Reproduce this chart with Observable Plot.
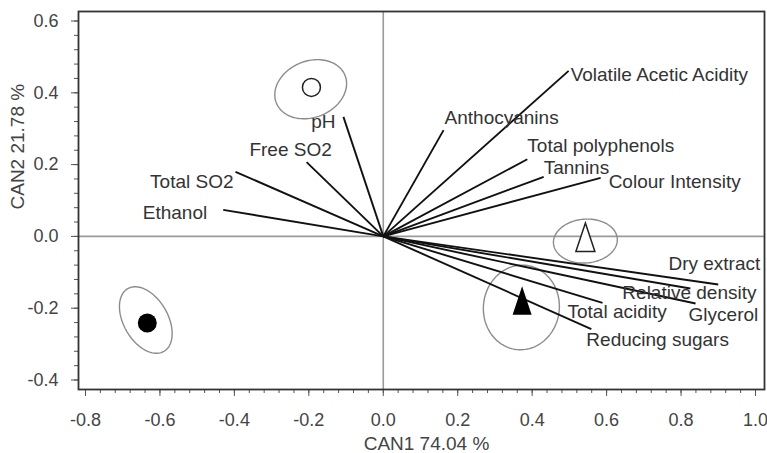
<!DOCTYPE html>
<html>
<head>
<meta charset="utf-8">
<script src="https://cdn.jsdelivr.net/npm/d3@7"></script>
<script src="https://cdn.jsdelivr.net/npm/@observablehq/plot@0.6"></script>
<style>
  body { margin: 0; background: #fff; }
  svg { display: block; }
</style>
</head>
<body>
<div id="chart"></div>
<script>
// Structure coefficients of the wine variables on the two canonical axes
const variables = [
  "Volatile Acetic Acidity", "Anthocyanins", "Total polyphenols", "Tannins",
  "Colour Intensity", "pH", "Free SO2", "Total SO2", "Ethanol",
  "Dry extract", "Relative density", "Glycerol", "Total acidity", "Reducing sugars"
];
const can1 = [0.498, 0.162, 0.387, 0.431, 0.584, -0.107, -0.206, -0.397, -0.430, 0.900, 0.825, 0.839, 0.589, 0.559];
const can2 = [0.461, 0.296, 0.215, 0.166, 0.163, 0.333, 0.207, 0.180, 0.074, -0.134, -0.145, -0.187, -0.185, -0.258];

// Group centroids
const groups = ["open circle", "filled circle", "open triangle", "filled triangle"];
const groupCan1 = [-0.193, -0.634, 0.543, 0.373];
const groupCan2 = [0.415, -0.241, -0.004, -0.180];

// Confidence ellipses around each group: centre, semi-axes and tilt (degrees)
const ellipseCan1 = [-0.195, -0.638, 0.543, 0.371];
const ellipseCan2 = [0.410, -0.233, -0.013, -0.198];
const ellipseSemiMajor = [0.100, 0.100, 0.086, 0.118];
const ellipseSemiMinor = [0.078, 0.060, 0.061, 0.102];
const ellipseTilt = [25, -62, 5, 85];

// Axis ticks
const xTicks = [-0.8, -0.6, -0.4, -0.2, 0.0, 0.2, 0.4, 0.6, 0.8, 1.0];
const yTicks = [-0.4, -0.2, 0.0, 0.2, 0.4, 0.6];
const xMinorTicks = d3.range(-40, 51, 2).map(k => k / 50);
const yMinorTicks = d3.range(-20, 31, 2).map(k => k / 50);

const xTitle = "CAN1 74.04 %";
const yTitle = "CAN2 21.78 %";

// Label placement relative to the arrow tip: [textAnchor, dx, dy]
const labelPlacement = [
  ["start", 2, 4], ["start", 1, -12], ["start", 0, -13], ["start", 0, -9],
  ["start", 8, 4], ["end", -8, 5], ["middle", -16, -12], ["end", -2, 10],
  ["end", -16, 3], ["end", 42, -21], ["start", -68, 4], ["start", -7, 11],
  ["start", -35, 9], ["start", -5, 11]
];

const vectors = variables.map((name, i) => ({name, x: can1[i], y: can2[i]}));
const centroids = groups.map((g, i) => ({group: g, x: groupCan1[i], y: groupCan2[i]}));

const ellipsePoints = [];
groups.forEach((g, i) => {
  const th = ellipseTilt[i] * Math.PI / 180;
  const a = ellipseSemiMajor[i], b = ellipseSemiMinor[i];
  for (let deg = 0; deg <= 360; deg += 3) {
    const t = deg * Math.PI / 180;
    ellipsePoints.push({
      group: g,
      x: ellipseCan1[i] + a * Math.cos(th) * Math.cos(t) - b * Math.sin(th) * Math.sin(t),
      y: ellipseCan2[i] + a * Math.sin(th) * Math.cos(t) + b * Math.cos(th) * Math.sin(t)
    });
  }
});

// Tall narrow triangle used for the two triangle groups
const tallTriangle = {
  draw(context, size) {
    const r = Math.sqrt(size / Math.PI);
    context.moveTo(0, -1.55 * r);
    context.lineTo(r, 1.45 * r);
    context.lineTo(-r, 1.45 * r);
    context.closePath();
  }
};

const ink = "#222";
const fmt = d => d.toFixed(1);

const labelMarks = vectors.map((v, i) => Plot.text([v], {
  x: "x", y: "y", text: "name",
  textAnchor: labelPlacement[i][0], dx: labelPlacement[i][1], dy: labelPlacement[i][2],
  fill: "#333", fontSize: 19
}));

const chart = Plot.plot({
  width: 767,
  height: 453,
  marginLeft: 78,
  marginRight: 3,
  marginTop: 11,
  marginBottom: 64,
  style: {fontFamily: "'Liberation Sans', Arial, sans-serif", fontSize: "18px", background: "#fff"},
  x: {domain: [-0.8188, 1.0242], label: null},
  y: {domain: [-0.4265, 0.6265], label: null},
  marks: [
    Plot.ruleX([0], {stroke: "#9a9a9a", strokeWidth: 1.6}),
    Plot.ruleY([0], {stroke: "#9a9a9a", strokeWidth: 1.6}),
    Plot.line(ellipsePoints, {x: "x", y: "y", z: "group", stroke: "#8c8c8c", strokeWidth: 1.4}),
    Plot.link(vectors, {x1: () => 0, y1: () => 0, x2: "x", y2: "y", stroke: "#111", strokeWidth: 1.9}),
    ...labelMarks,
    Plot.dot(centroids.filter((d, i) => i === 0), {x: "x", y: "y", r: 9, fill: "#fff", stroke: ink, strokeWidth: 1.5}),
    Plot.dot(centroids.filter((d, i) => i === 1), {x: "x", y: "y", r: 9.5, fill: "#000", stroke: "none"}),
    Plot.dot(centroids.filter((d, i) => i === 2), {x: "x", y: "y", r: 9.5, symbol: tallTriangle, fill: "#fff", stroke: ink, strokeWidth: 1.5}),
    Plot.dot(centroids.filter((d, i) => i === 3), {x: "x", y: "y", r: 9.5, symbol: tallTriangle, fill: "#000", stroke: "none"}),
    Plot.axisX({ticks: xMinorTicks, tickSize: 4, fill: "none", stroke: "#555", label: null}),
    Plot.axisX({ticks: xTicks, tickSize: 7, tickPadding: 17, tickFormat: fmt, stroke: "#555", fill: "#444", label: null}),
    Plot.axisY({ticks: yMinorTicks, tickSize: 4, fill: "none", stroke: "#555", label: null}),
    Plot.axisY({ticks: yTicks, tickSize: 7, tickPadding: 13, tickFormat: fmt, stroke: "#555", fill: "#444", label: null}),
    Plot.frame({stroke: "#333", strokeWidth: 1.8}),
    Plot.text([xTitle], {frameAnchor: "bottom", text: d => d, dy: 60, dx: 5, fill: "#444", fontSize: 19}),
    Plot.text([yTitle], {frameAnchor: "left", text: d => d, rotate: -90, dx: -61, dy: 9, fill: "#444", fontSize: 19})
  ]
});

document.getElementById("chart").appendChild(chart);
</script>
</body>
</html>
